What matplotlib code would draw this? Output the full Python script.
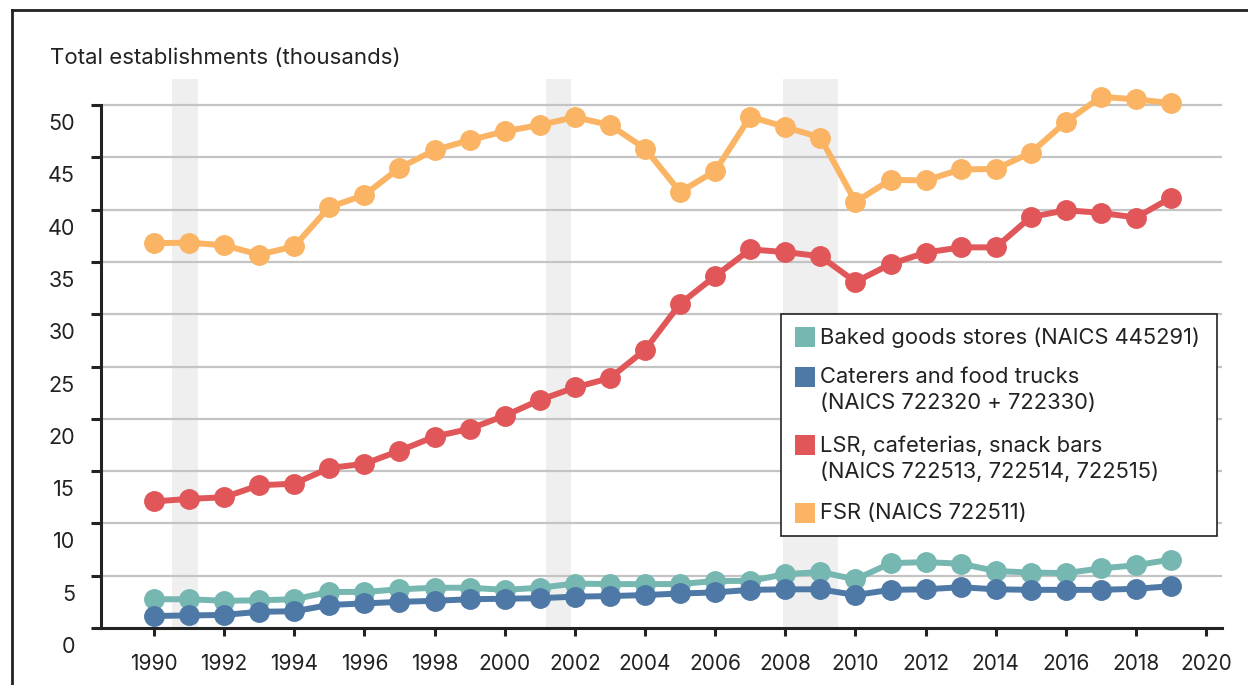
import matplotlib
matplotlib.use("Agg")
import matplotlib.pyplot as plt
import matplotlib.transforms as mtransforms
from matplotlib.patches import Rectangle
from matplotlib.lines import Line2D

plt.rcParams['font.family'] = ['Inter', 'DejaVu Sans']

years = list(range(1990, 2020))

baked = [2.75, 2.75, 2.6, 2.65, 2.75, 3.45, 3.45, 3.7, 3.85, 3.85,
         3.65, 3.85, 4.25, 4.2, 4.2, 4.2, 4.5, 4.5, 5.15, 5.35,
         4.65, 6.2, 6.3, 6.15, 5.45, 5.3, 5.25, 5.7, 6.0, 6.55]
caterers = [1.15, 1.2, 1.25, 1.55, 1.6, 2.2, 2.35, 2.5, 2.6, 2.75,
            2.8, 2.85, 3.0, 3.05, 3.15, 3.3, 3.4, 3.65, 3.7, 3.7,
            3.15, 3.65, 3.7, 3.9, 3.7, 3.65, 3.65, 3.65, 3.75, 4.0]
lsr = [12.1, 12.35, 12.5, 13.65, 13.8, 15.3, 15.7, 16.95, 18.3, 19.05,
       20.3, 21.8, 23.0, 23.9, 26.6, 31.0, 33.65, 36.2, 35.95, 35.55,
       33.1, 34.8, 35.9, 36.4, 36.4, 39.3, 39.95, 39.7, 39.25, 41.15]
fsr = [36.8, 36.85, 36.6, 35.7, 36.5, 40.25, 41.4, 44.0, 45.7, 46.65,
       47.5, 48.1, 48.85, 48.1, 45.85, 41.7, 43.7, 48.9, 47.9, 46.9,
       40.75, 42.85, 42.8, 43.85, 43.9, 45.45, 48.4, 50.8, 50.55, 50.2]

recessions = [(1990.5, 1991.25), (2001.17, 2001.9), (2007.92, 2009.5)]

series_labels = ["Baked goods stores (NAICS 445291)",
                 "Caterers and food trucks\n(NAICS 722320 + 722330)",
                 "LSR, cafeterias, snack bars\n(NAICS 722513, 722514, 722515)",
                 "FSR (NAICS 722511)"]
series_colors = ["#76B7B2", "#4E79A7", "#E15759", "#FAB464"]

y_ticks = [0, 5, 10, 15, 20, 25, 30, 35, 40, 45, 50]
x_ticks = list(range(1990, 2021, 2))
title = "Total establishments (thousands)"

W, H = 1248, 685
fig = plt.figure(figsize=(W / 100, H / 100), dpi=100)
ax = fig.add_axes([101 / W, 1 - 628 / H, (1222 - 101) / W, (628 - 79) / H])

TEXT = "#222222"

for a, b in recessions:
    ax.axvspan(a, b, color="#efefef", zorder=0, lw=0)

for yv in y_ticks[1:]:
    ax.axhline(yv, color="#c4c4c4", lw=1.6, zorder=1)

ms = 14
lw = 4.3
order = [1, 0, 2, 3]
data = [baked, caterers, lsr, fsr]
for i in order:
    ax.plot(years, data[i], color=series_colors[i], lw=lw, marker="o",
            ms=ms, mec=series_colors[i], zorder=3 + i * 0.1,
            solid_joinstyle="round", solid_capstyle="round")

ax.set_xlim(1988.49, 2020.45)
ax.set_ylim(0, 52.5)

for s in ["top", "right"]:
    ax.spines[s].set_visible(False)
for s in ["left", "bottom"]:
    ax.spines[s].set_linewidth(2.2)
    ax.spines[s].set_color("#222222")
ax.spines["left"].set_bounds(0, 50)

ax.set_xticks(x_ticks)
ax.set_xticklabels([str(x) for x in x_ticks])
ax.tick_params(axis="x", length=6, width=2.2, color="#222222", pad=13,
               labelsize=15, labelcolor=TEXT)

ax.set_yticks(y_ticks)
ax.set_yticklabels([])
ax.tick_params(axis="y", length=7, width=2.2, color="#222222")

off = mtransforms.ScaledTranslation(-26 / 100, -19 / 100, fig.dpi_scale_trans)
ytr = ax.get_yaxis_transform() + off
for yv in y_ticks:
    ax.text(0, yv, str(yv), transform=ytr, ha="right", va="center",
            fontsize=15.5, color=TEXT)

fig.text(50 / W, 1 - 58 / H, title, ha="left", va="center", fontsize=16,
         color=TEXT)

# outer frame (left and top)
fig.add_artist(Line2D([12 / W, 12 / W], [0, 1 - 10 / H], transform=fig.transFigure,
                      color="#222222", lw=2))
fig.add_artist(Line2D([12 / W, 1], [1 - 10 / H, 1 - 10 / H], transform=fig.transFigure,
                      color="#222222", lw=2))

# legend box
lx0, ly0, lx1, ly1 = 781, 314, 1217, 536
fig.add_artist(Rectangle((lx0 / W, 1 - ly1 / H), (lx1 - lx0) / W, (ly1 - ly0) / H,
                         transform=fig.transFigure, facecolor="white",
                         edgecolor="#222222", lw=1.2, zorder=10))
entry_y = [337, 377, 445, 513]
for lab, col, yy in zip(series_labels, series_colors, entry_y):
    fig.add_artist(Rectangle((795 / W, 1 - (yy + 10) / H), 20 / W, 20 / H,
                             transform=fig.transFigure, facecolor=col,
                             edgecolor="none", zorder=11))
    fig.text(820 / W, 1 - (yy - 10) / H, lab, ha="left", va="top",
             fontsize=15.8, color=TEXT, linespacing=1.38, zorder=12)

fig.savefig("out.png", dpi=100)
